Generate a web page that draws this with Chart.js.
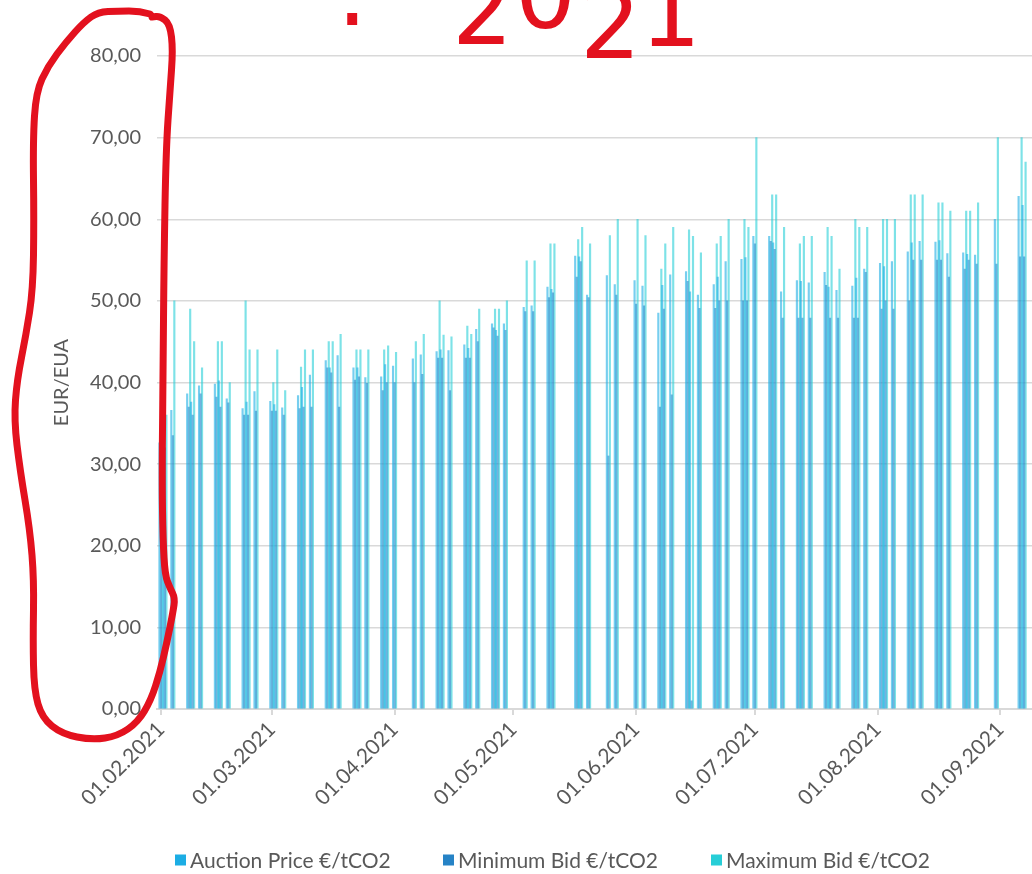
<!DOCTYPE html>
<html>
<head>
<meta charset="utf-8">
<title>EUA auctions 2021</title>
<script src="https://cdn.jsdelivr.net/npm/chart.js@4.4.1/dist/chart.umd.min.js"></script>
<style>
    html, body { margin: 0; padding: 0; background: #ffffff; }
    #chart { display: block; }
</style>
</head>
<body>
<canvas id="chart" width="1032" height="874"></canvas>
<script>
'use strict';

// 
// Data
//

const auctionDates = [
    '2021-02-01', '2021-02-02', '2021-02-04', '2021-02-08', '2021-02-09', '2021-02-11',
    '2021-02-15', '2021-02-16', '2021-02-18', '2021-02-22', '2021-02-23', '2021-02-25',
    '2021-03-01', '2021-03-02', '2021-03-04', '2021-03-08', '2021-03-09', '2021-03-11',
    '2021-03-15', '2021-03-16', '2021-03-18', '2021-03-22', '2021-03-23', '2021-03-25',
    '2021-03-29', '2021-03-30', '2021-04-01', '2021-04-06', '2021-04-08', '2021-04-12',
    '2021-04-13', '2021-04-15', '2021-04-19', '2021-04-20', '2021-04-22', '2021-04-26',
    '2021-04-27', '2021-04-29', '2021-05-04', '2021-05-06', '2021-05-10', '2021-05-11',
    '2021-05-17', '2021-05-18', '2021-05-20', '2021-05-25', '2021-05-27', '2021-06-01',
    '2021-06-03', '2021-06-07', '2021-06-08', '2021-06-10', '2021-06-14', '2021-06-15',
    '2021-06-17', '2021-06-21', '2021-06-22', '2021-06-24', '2021-06-28', '2021-06-29',
    '2021-07-01', '2021-07-05', '2021-07-06', '2021-07-08', '2021-07-12', '2021-07-13',
    '2021-07-15', '2021-07-19', '2021-07-20', '2021-07-22', '2021-07-26', '2021-07-27',
    '2021-07-29', '2021-08-02', '2021-08-03', '2021-08-05', '2021-08-09', '2021-08-10',
    '2021-08-12', '2021-08-16', '2021-08-17', '2021-08-19', '2021-08-23', '2021-08-24',
    '2021-08-26', '2021-08-31', '2021-09-06', '2021-09-07'
];

const auctionPrice = [
    32.6, 33.5, 36.6, 38.6, 37.6, 39.6,
    39.8, 40.2, 38.0, 36.8, 37.6, 38.9,
    37.7, 37.3, 36.9, 38.4, 39.4, 40.9,
    42.7, 41.8, 43.3, 41.8, 41.8, 40.6,
    40.7, 42.2, 42.0, 42.9, 43.4, 43.8,
    44.0, 43.9, 44.6, 44.2, 46.5, 47.2,
    46.4, 47.2, 49.2, 49.4, 51.7, 51.4,
    55.5, 55.4, 50.7, 53.1, 52.0, 52.5,
    51.8, 48.5, 51.9, 53.2, 53.6, 51.1,
    50.7, 52.0, 52.9, 54.8, 55.1, 55.3,
    57.9, 57.9, 57.1, 51.1, 52.5, 52.4,
    52.2, 53.5, 51.7, 51.3, 51.8, 52.8,
    53.9, 54.6, 54.2, 54.8, 56.0, 57.1,
    57.3, 57.2, 57.4, 55.8, 55.9, 55.7,
    55.6, 60.0, 62.8, 61.7
];

const minimumBid = [
    31.4, 32.0, 33.5, 37.0, 36.0, 38.6,
    38.2, 37.0, 37.5, 36.0, 36.0, 36.5,
    36.5, 36.5, 36.0, 36.8, 37.0, 37.0,
    41.8, 41.2, 37.0, 40.3, 40.7, 39.9,
    39.0, 40.0, 40.0, 40.0, 41.0, 43.0,
    43.0, 39.0, 43.0, 43.0, 45.0, 46.7,
    45.7, 46.4, 48.7, 48.7, 50.4, 51.0,
    52.9, 54.8, 50.4, 31.0, 50.7, 49.6,
    49.4, 37.0, 49.0, 38.5, 52.4, 1.0,
    49.1, 49.1, 50.0, 50.0, 50.0, 50.0,
    57.0, 57.3, 56.3, 47.9, 47.9, 47.9,
    47.9, 51.9, 47.9, 47.9, 47.9, 47.9,
    53.5, 49.0, 50.0, 49.0, 50.0, 55.0,
    55.0, 55.0, 55.0, 52.9, 53.9, 55.0,
    54.5, 54.5, 55.4, 55.4
];

const maximumBid = [
    35.5, 36.0, 50.0, 49.0, 45.0, 41.8,
    45.0, 45.0, 40.0, 50.0, 44.0, 44.0,
    40.0, 44.0, 39.0, 41.9, 44.0, 44.0,
    45.0, 45.0, 45.9, 44.0, 44.0, 44.0,
    44.0, 44.5, 43.7, 45.0, 45.9, 50.0,
    45.8, 45.6, 46.9, 45.9, 49.0, 49.0,
    49.0, 50.0, 54.9, 54.9, 57.0, 57.0,
    57.5, 59.0, 57.0, 58.0, 60.0, 60.0,
    58.0, 53.9, 57.0, 59.0, 58.7, 57.9,
    55.9, 57.0, 57.9, 60.0, 60.0, 59.0,
    70.0, 63.0, 63.0, 59.0, 57.0, 57.9,
    57.9, 59.0, 57.9, 53.9, 60.0, 59.0,
    59.0, 60.0, 60.0, 60.0, 63.0, 63.0,
    63.0, 62.0, 62.0, 61.0, 61.0, 61.0,
    62.0, 70.0, 70.0, 67.0
];

const tickDates = [
    '2021-02-01', '2021-03-01', '2021-04-01', '2021-05-01',
    '2021-06-01', '2021-07-01', '2021-08-01', '2021-09-01'
];
const tickLabels = [
    '01.02.2021', '01.03.2021', '01.04.2021', '01.05.2021',
    '01.06.2021', '01.07.2021', '01.08.2021', '01.09.2021'
];

const seriesNames = ['Auction Price €/tCO2', 'Minimum Bid €/tCO2', 'Maximum Bid €/tCO2'];
const seriesColors = ['#1CADE4', '#2683C6', '#27CED7'];
const barFills = ['rgba(28,173,228,0.6)', 'rgba(38,131,198,0.6)', 'rgba(39,206,215,0.6)'];

const FONT = 'Lato, "Noto Sans", sans-serif';
const TEXT_COLOR = '#595959';
const GRID_COLOR = '#d9d9d9';


// days since 1 Feb 2021, used as the linear x value
function dayOf(iso) {
    const p = iso.split('-').map(Number);
    return (Date.UTC(p[0], p[1] - 1, p[2]) - Date.UTC(2021, 1, 1)) / 86400000;
}

function points(values) {
    return auctionDates.map((d, i) => ({ x: dayOf(d), y: values[i] }));
}


// legend is drawn by hand so it can sit below the rotated date labels
const bottomLegend = {
    id: 'bottomLegend',
    afterDraw(chart) {
        const ctx = chart.ctx;
        ctx.save();
        ctx.font = '21px ' + FONT;
        ctx.textBaseline = 'middle';
        const box = 11, y = 860;
        seriesNames.forEach((name, i) => {
            const x = 175 + i * 268;
            ctx.fillStyle = seriesColors[i];
            ctx.fillRect(x, y - box / 2, box, box);
            ctx.fillStyle = TEXT_COLOR;
            ctx.fillText(name, x + box + 4, y + 1);
        });
        ctx.restore();
    }
};


// the red pen marks drawn over the screenshot
const penMarks = {
    id: 'penMarks',
    afterDraw(chart) {
        const ctx = chart.ctx;
        const loop = [
            [150, 14], [140, 11], [118, 11], [98, 12], [84, 22], [66, 42], [48, 66], [36, 92],
            [33, 140], [34, 220], [33, 290], [26, 335], [17, 380], [14, 420], [20, 470],
            [30, 530], [34, 580], [33, 640], [34, 690], [42, 718], [62, 734], [92, 740],
            [118, 736], [138, 722], [151, 700], [160, 672], [167, 642], [173, 612], [175, 598],
            [170, 588], [165, 575], [163, 540], [162, 480], [163, 380], [164, 260], [166, 150],
            [170, 90], [173, 50], [170, 24], [160, 16], [152, 17]
        ];
        ctx.save();
        ctx.strokeStyle = '#E3111E';
        ctx.lineWidth = 7;
        ctx.lineCap = 'round';
        ctx.lineJoin = 'round';
        ctx.beginPath();
        ctx.moveTo(loop[0][0], loop[0][1]);
        for (let i = 1; i < loop.length - 1; i++) {
            const mx = (loop[i][0] + loop[i + 1][0]) / 2;
            const my = (loop[i][1] + loop[i + 1][1]) / 2;
            ctx.quadraticCurveTo(loop[i][0], loop[i][1], mx, my);
        }
        ctx.lineTo(loop[loop.length - 1][0], loop[loop.length - 1][1]);
        ctx.stroke();

        ctx.fillStyle = '#E3111E';
        ctx.font = '96px "DejaVu Sans", sans-serif';
        ctx.textBaseline = 'alphabetic';
        ctx.fillText(':', 336, 25);
        ctx.fillText('2', 452, 44);
        ctx.fillText('0', 515, 28);
        ctx.fillText('2', 580, 58);
        ctx.fillText('1', 640, 46);
        ctx.restore();
    }
};


function drawChart() {
    const ctx = document.getElementById('chart').getContext('2d');

    const datasets = [auctionPrice, minimumBid, maximumBid].map((values, i) => ({
        label: seriesNames[i],
        data: points(values),
        backgroundColor: barFills[i],
        borderWidth: 0,
        barThickness: 1.5
    }));

    new Chart(ctx, {
        type: 'bar',
        data: { datasets: datasets },
        options: {
            responsive: false,
            animation: false,
            devicePixelRatio: 1,
            layout: { padding: { top: 56, right: 0, bottom: 70, left: 0 } },
            plugins: {
                legend: { display: false },
                tooltip: { enabled: false }
            },
            scales: {
                x: {
                    type: 'linear',
                    offset: false,
                    min: -1,
                    max: 220,
                    afterBuildTicks: (scale) => {
                        scale.ticks = tickDates.map(d => ({ value: dayOf(d) }));
                    },
                    afterFit: (scale) => { scale.height = 95; },
                    ticks: {
                        autoSkip: false,
                        minRotation: 45,
                        maxRotation: 45,
                        padding: 2,
                        color: TEXT_COLOR,
                        font: { family: FONT, size: 21 },
                        callback: (value, index) => tickLabels[index]
                    },
                    grid: {
                        offset: false,
                        drawOnChartArea: false,
                        drawTicks: true,
                        tickLength: 6,
                        color: GRID_COLOR,
                        lineWidth: 2
                    },
                    border: { display: true, color: GRID_COLOR, width: 2 }
                },
                y: {
                    min: 0,
                    max: 80,
                    afterFit: (scale) => { scale.width = 157; },
                    ticks: {
                        stepSize: 10,
                        padding: 16,
                        color: TEXT_COLOR,
                        font: { family: FONT, size: 20 },
                        callback: (value) => value.toFixed(2).replace('.', ',')
                    },
                    grid: {
                        color: GRID_COLOR,
                        lineWidth: 1.5,
                        drawTicks: false
                    },
                    border: { display: false },
                    title: {
                        display: true,
                        text: 'EUR/EUA',
                        color: TEXT_COLOR,
                        font: { family: FONT, size: 20 },
                        padding: { top: 50, bottom: 0 }
                    }
                }
            }
        },
        plugins: [bottomLegend, penMarks]
    });
}

drawChart();
</script>
</body>
</html>
